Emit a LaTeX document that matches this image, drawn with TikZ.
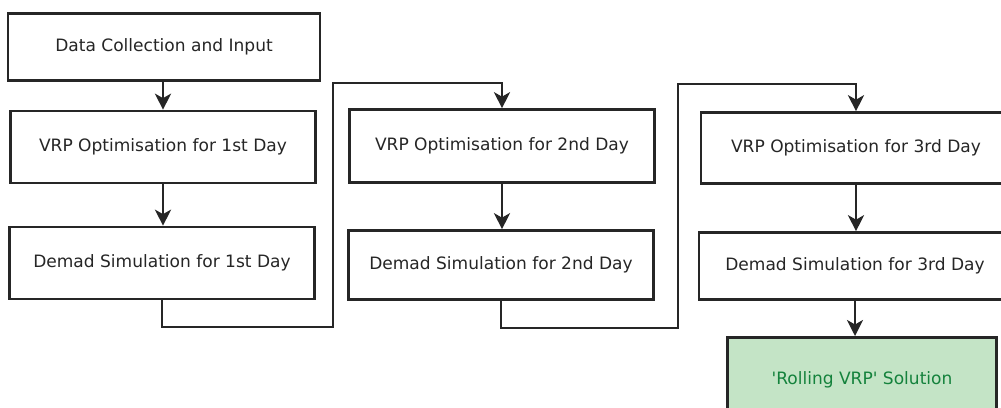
\documentclass[tikz,border=0pt]{standalone}
\usepackage{fontspec}
\setmainfont{DejaVu Sans}
\definecolor{green}{RGB}{196, 228, 198}
\definecolor{darkgreen}{RGB}{20, 130, 60}
\usetikzlibrary{arrows.meta}
\usetikzlibrary{calc}
\usetikzlibrary{positioning}
\tikzset{
  stage/.style={
    draw=black!85, line width=1.5pt, fill=white, text=black!85,
    minimum width=305*0.02cm, minimum height=71*0.02cm,
    inner sep=0, font=\fontsize{9.7}{11}\selectfont
  },
  arrow/.style={-{Stealth[length=3.2mm, width=3.2mm, inset=0.9mm]}, line width=1.5pt, black!85}
}
\begin{document}
\begin{tikzpicture}[x=0.02cm, y=-0.02cm]
      \clip (0,0) rectangle (1001,407);
      \fill[white] (0,0) rectangle (1001,407);

      % first day
      \node [stage, minimum width=312*0.02cm, minimum height=67*0.02cm] (input) at (164,47)
            {Data Collection and Input};
      \node [stage, minimum height=72*0.02cm] (opt1) at (163,147) {VRP Optimisation for 1st Day};
      \node [stage, minimum height=72*0.02cm] (dem1) at (162,263) {Demad Simulation for 1st Day};

      % second day
      \node [stage, minimum height=73*0.02cm] (opt2) at (502,146) {VRP Optimisation for 2nd Day};
      \node [stage, minimum height=69*0.02cm] (dem2) at (501,265) {Demad Simulation for 2nd Day};

      % third day
      \node [stage, minimum width=310*0.02cm] (opt3) at (856,148)
            {VRP Optimisation for 3rd Day};
      \node [stage, minimum width=312*0.02cm, minimum height=67*0.02cm] (dem3) at (855,266)
            {Demad Simulation for 3rd Day};
      \node [stage, fill=green, text=darkgreen, minimum width=269*0.02cm,
             minimum height=110*0.02cm, anchor=north] (rolling) at (862,336)
            {\raisebox{5.8mm}{\textquotesingle Rolling VRP\textquotesingle{} Solution}};

      \coordinate (low1) at (333,327);
      \coordinate (high1) at (333,83);
      \coordinate (low2) at (678,328);
      \coordinate (high2) at (678,84);

      \draw [arrow] (input.south -| opt1.north) -- (opt1.north);
      \draw [arrow] (opt1.south) -- (opt1.south |- dem1.north);
      \draw [arrow] (dem1.south) |- (low1) -- (high1) -| (opt2.north);
      \draw [arrow] (opt2.south) -- (opt2.south |- dem2.north);
      \draw [arrow] (dem2.south) |- (low2) -- (high2) -| (opt3.north);
      \draw [arrow] (opt3.south) -- (opt3.south |- dem3.north);
      \draw [arrow] (dem3.south) -- (dem3.south |- rolling.north);
    \end{tikzpicture}
\end{document}
